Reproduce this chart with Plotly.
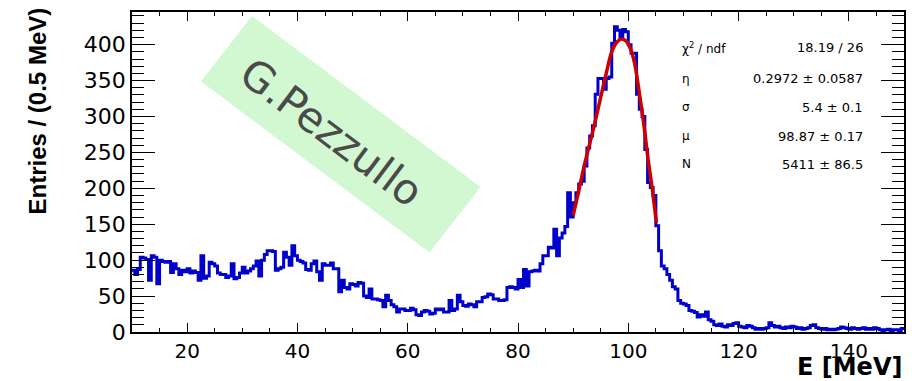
import plotly.graph_objects as go

# ---------------- data ----------------
bin_start = 10.0
bin_width = 0.5
counts = [
    # 10-20
    86, 80, 87, 104, 103, 101, 72, 106, 104, 67, 100, 98, 97, 98, 83, 95, 88, 80, 86, 84,
    # 20-30
    88, 82, 85, 83, 72, 106, 75, 78, 97, 95, 92, 82, 80, 80, 76, 78, 95, 74, 76, 82,
    # 30-40
    90, 82, 85, 88, 92, 99, 78, 100, 108, 113, 113, 112, 86, 88, 90, 111, 104, 93, 120, 106,
    # 40-50
    100, 98, 96, 87, 86, 95, 99, 84, 72, 95, 93, 93, 96, 88, 88, 56, 72, 62, 60, 67,
    # 50-60
    66, 64, 69, 68, 50, 48, 60, 46, 46, 45, 44, 35, 51, 44, 38, 35, 28, 32, 32, 30,
    # 60-70
    30, 33, 31, 24, 23, 28, 30, 29, 25, 26, 32, 31, 32, 28, 28, 44, 30, 32, 51, 42,
    # 70-80
    37, 36, 39, 38, 35, 42, 42, 48, 49, 53, 52, 46, 46, 44, 44, 45, 62, 63, 62, 60,
    # 80-90
    73, 62, 87, 64, 84, 85, 86, 85, 95, 106, 106, 118, 117, 143, 106, 131, 138, 147, 194, 160,
    # 90-100
    180, 194, 206, 210, 231, 256, 273, 287, 331, 353, 353, 338, 353, 355, 402, 425, 420, 409, 421, 418,
    # 100-110
    400, 388, 388, 331, 310, 300, 254, 208, 201, 190, 148, 113, 92, 88, 80, 72, 63, 60, 44, 40,
    # 110-120
    39, 37, 30, 29, 27, 21, 24, 22, 28, 17, 15, 10, 9, 11, 8, 7, 10, 9, 12, 13,
    # 120-130
    8, 7, 6, 9, 8, 6, 4, 5, 4, 5, 6, 13, 9, 7, 8, 6, 5, 7, 6, 8,
    # 130-140
    7, 5, 6, 4, 5, 6, 9, 10, 6, 5, 4, 5, 3, 4, 3, 4, 5, 7, 6, 5,
    # 140-150
    4, 6, 5, 4, 5, 6, 4, 5, 4, 6, 5, 3, 2, 3, 4, 2, 3, 3, 2, 5,
]

fit_e = [90.0, 91.0, 92.0, 93.0, 94.0, 95.0, 96.0, 97.0, 98.0, 98.8, 99.6, 100.5,
         101.2, 102.0, 102.8, 103.6, 104.4, 105.1]
fit_val = [162, 196, 231, 262, 293, 327, 360, 390, 404, 408, 405, 392,
           372, 333, 290, 240, 196, 152]

x_ticks = [20, 40, 60, 80, 100, 120, 140]
y_ticks = [0, 50, 100, 150, 200, 250, 300, 350, 400]

stat_labels = ["χ<sup>2</sup> / ndf", "η", "σ", "μ", "N"]
stat_values = ["18.19 / 26", "0.2972 ± 0.0587", "5.4 ± 0.1", "98.87 ± 0.17", "5411 ± 86.5"]

x_title = "E [MeV]"
y_title = "Entries / (0.5 MeV)"
watermark = "G.Pezzullo"

# ---------------- figure ----------------
W, H = 916, 381
L, R, T, B = 132, 11, 10, 49
PW, PH = W - L - R, H - T - B


def px(x):
    return (x - L) / PW


def py(y):
    return (H - B - y) / PH


edges = [bin_start + i * bin_width for i in range(len(counts) + 1)]
steps = counts + [counts[-1]]

fig = go.Figure()
fig.add_trace(go.Scatter(
    x=edges, y=steps, mode="lines",
    line=dict(color="#0000cc", width=3, shape="hv"),
    hoverinfo="skip", showlegend=False))
fig.add_trace(go.Scatter(
    x=fit_e, y=fit_val, mode="lines",
    line=dict(color="#cc0000", width=3.5, shape="spline", smoothing=1.0),
    hoverinfo="skip", showlegend=False))

xtickfont = dict(family="DejaVu Sans", size=20, color="black")
ytickfont = dict(family="DejaVu Sans", size=22, color="black")
fig.update_xaxes(
    range=[10, 150], tickvals=x_ticks, ticktext=[str(v) for v in x_ticks],
    showline=True, linecolor="black", linewidth=1.5, mirror="ticks",
    ticks="inside", ticklen=9, tickwidth=1.2, tickcolor="black",
    minor=dict(dtick=5, tick0=0, ticks="inside", ticklen=4.5, tickwidth=1.2, tickcolor="black"),
    showgrid=False, zeroline=False, tickfont=xtickfont)
fig.update_yaxes(
    range=[0, 445.5], tickvals=y_ticks, ticktext=[str(v) for v in y_ticks],
    showline=True, linecolor="black", linewidth=1.5, mirror="ticks",
    ticks="inside", ticklen=23, tickwidth=1.2, tickcolor="black",
    minor=dict(dtick=10, tick0=0, ticks="inside", ticklen=12, tickwidth=1.2, tickcolor="black"),
    showgrid=False, zeroline=False, tickfont=ytickfont)

# watermark box
corners = [(252, 14), (481, 186), (430, 252), (201, 80)]
path = "M " + " L ".join(f"{px(x):.5f},{py(y):.5f}" for x, y in corners) + " Z"
shapes = [dict(type="path", xref="paper", yref="paper", path=path,
               fillcolor="#d2f8d2", line=dict(width=0), layer="below")]

annotations = [
    dict(text=watermark, x=px(332), y=py(131), xref="paper", yref="paper",
         showarrow=False, textangle=37, xanchor="center", yanchor="middle",
         font=dict(family="DejaVu Sans", size=42, color="#4a4a4a")),
    dict(text=f"<b>{x_title}</b>", x=px(905), y=py(383), xref="paper", yref="paper",
         showarrow=False, xanchor="right", yanchor="bottom",
         font=dict(family="DejaVu Sans", size=24, color="black")),
    dict(text=f"<b>{y_title}</b>", x=px(37), y=py(110), xref="paper", yref="paper",
         showarrow=False, textangle=-90, xanchor="center", yanchor="middle",
         font=dict(family="Liberation Sans", size=24, color="black")),
]
row_y = [46, 77, 106, 135, 163]
for lab, val, yy in zip(stat_labels, stat_values, row_y):
    annotations.append(dict(text=lab, x=px(681), y=py(yy), xref="paper", yref="paper",
                            showarrow=False, xanchor="left", yanchor="middle",
                            font=dict(family="DejaVu Sans", size=12, color="black")))
    annotations.append(dict(text=val, x=px(866), y=py(yy), xref="paper", yref="paper",
                            showarrow=False, xanchor="right", yanchor="middle",
                            font=dict(family="DejaVu Sans", size=13, color="black")))

fig.update_layout(
    width=W, height=H, margin=dict(l=L, r=R, t=T, b=B),
    paper_bgcolor="white", plot_bgcolor="white",
    shapes=shapes, annotations=annotations, showlegend=False)

fig.write_html("out.html", config={"displayModeBar": False},
               post_script="document.body.style.margin='0';document.body.style.overflow='hidden';")
